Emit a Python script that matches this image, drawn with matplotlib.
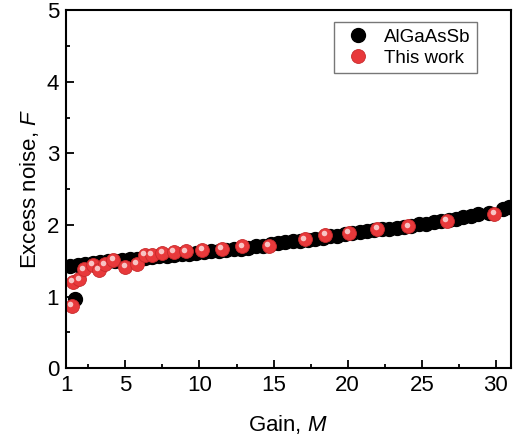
import matplotlib.pyplot as plt

plt.rcParams.update({
    "font.family": ["Liberation Sans", "DejaVu Sans"],
    "mathtext.fontset": "custom",
    "mathtext.it": "Liberation Sans:italic",
    "mathtext.rm": "Liberation Sans",
})

# AlGaAsSb reference data
ref_m = [1.3, 1.6, 1.8, 2.3, 2.8, 3.3, 3.8, 4.3, 4.8, 5.3, 5.8, 6.3, 6.8, 7.3, 7.8,
         8.3, 8.8, 9.3, 9.8, 10.3, 10.8, 11.3, 11.8, 12.3, 12.8, 13.3, 13.8, 14.3,
         14.8, 15.3, 15.8, 16.3, 16.8, 17.3, 17.8, 18.3, 18.8, 19.3, 19.8, 20.3,
         20.8, 21.3, 21.8, 22.3, 22.8, 23.3, 23.8, 24.3, 24.8, 25.3, 25.8, 26.3,
         26.8, 27.3, 27.8, 28.3, 28.8, 29.5, 30.5, 30.9]
ref_f = [1.43, 0.97, 1.44, 1.45, 1.47, 1.48, 1.49, 1.50, 1.51, 1.52, 1.53, 1.54,
         1.55, 1.56, 1.57, 1.58, 1.59, 1.60, 1.61, 1.62, 1.63, 1.64, 1.65, 1.66,
         1.67, 1.68, 1.70, 1.71, 1.73, 1.75, 1.76, 1.77, 1.78, 1.79, 1.81, 1.82,
         1.84, 1.85, 1.87, 1.89, 1.90, 1.91, 1.93, 1.94, 1.95, 1.96, 1.97, 1.99,
         2.01, 2.02, 2.04, 2.05, 2.07, 2.09, 2.11, 2.13, 2.15, 2.17, 2.22, 2.25]

# this work
work_m = [1.38, 1.45, 1.9, 2.2, 2.8, 3.2, 3.6, 4.2, 5.0, 5.8, 6.3, 6.8, 7.5, 8.3,
          9.1, 10.2, 11.5, 12.9, 14.7, 17.1, 18.5, 20.1, 22.0, 24.1, 26.7, 29.9]
work_f = [0.87, 1.21, 1.24, 1.38, 1.44, 1.37, 1.45, 1.51, 1.42, 1.46, 1.58, 1.58,
          1.61, 1.62, 1.63, 1.65, 1.67, 1.70, 1.71, 1.80, 1.86, 1.89, 1.94, 1.98,
          2.06, 2.15]

fig = plt.figure(figsize=(5.13, 4.42), dpi=100)
ax = fig.add_axes([0.1287, 0.167, 0.867, 0.81])

ax.plot(ref_m, ref_f, "o", color="black", ms=10, mec="black", label="AlGaAsSb")
ax.plot(work_m, work_f, "o", color="#e8393b", ms=10, mec="#c82a2c", mew=0.6,
        label="This work")
# highlight to give the sphere look
ax.plot([m - 0.12 for m in work_m], [f + 0.025 for f in work_f], "o",
        color="#f8c4c4", ms=4, mew=0)

ax.set_xlim(1, 31)
ax.set_ylim(0, 5)
ax.set_xticks([1, 5, 10, 15, 20, 25, 30])
ax.set_xticks([2.5, 7.5, 12.5, 17.5, 22.5, 27.5], minor=True)
ax.set_yticks([0, 1, 2, 3, 4, 5])
ax.set_yticks([0.5, 1.5, 2.5, 3.5, 4.5], minor=True)
ax.tick_params(which="both", direction="in", width=1.3, labelsize=16)
ax.tick_params(which="major", length=6, pad=5)
ax.tick_params(which="minor", length=3)
for s in ax.spines.values():
    s.set_linewidth(1.5)

ax.set_xlabel("Gain, $\\mathit{M}$", fontsize=16, labelpad=12)
ax.set_ylabel("Excess noise, $\\mathit{F}$", fontsize=16, labelpad=4)

leg = ax.legend(loc="upper right", bbox_to_anchor=(0.924, 0.966),
                borderaxespad=0, fontsize=13.5,
                frameon=True, fancybox=False, edgecolor="#555555",
                handletextpad=0.5, borderpad=0.35, labelspacing=0.2,
                handlelength=1.8)
leg.get_frame().set_linewidth(1.0)

fig.savefig("out.png", dpi=100)
